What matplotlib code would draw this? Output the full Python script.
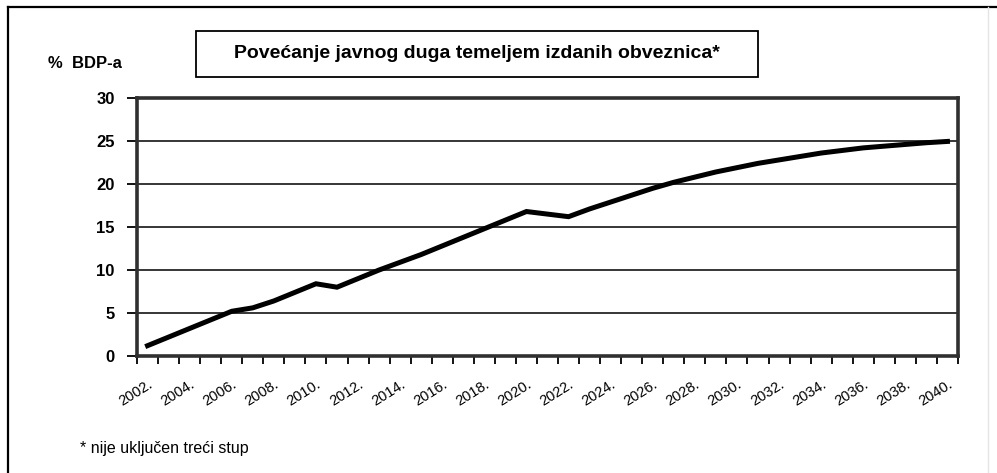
import matplotlib
matplotlib.use('Agg')
import matplotlib.pyplot as plt
from matplotlib.patches import Rectangle
from matplotlib.lines import Line2D

plt.rcParams['font.family'] = ['Liberation Sans', 'DejaVu Sans']

# godine (kategorije na osi x)
years = [2002, 2003, 2004, 2005, 2006, 2007, 2008, 2009, 2010, 2011,
         2012, 2013, 2014, 2015, 2016, 2017, 2018, 2019, 2020, 2021,
         2022, 2023, 2024, 2025, 2026, 2027, 2028, 2029, 2030, 2031,
         2032, 2033, 2034, 2035, 2036, 2037, 2038, 2039, 2040]

# javni dug, % BDP-a (ocitano sa slike)
debt = [1.2, 2.2, 3.2, 4.2, 5.2, 5.6, 6.4, 7.4, 8.4, 8.0,
        9.0, 10.0, 10.9, 11.8, 12.8, 13.8, 14.8, 15.8, 16.8, 16.5,
        16.2, 17.1, 17.9, 18.7, 19.5, 20.2, 20.8, 21.4, 21.9, 22.4,
        22.8, 23.2, 23.6, 23.9, 24.2, 24.4, 24.6, 24.8, 24.95]

yticks = [0, 5, 10, 15, 20, 25, 30]

title = 'Povećanje javnog duga temeljem izdanih obveznica*'
ylabel = '%  BDP-a'
note = '* nije uključen treći stup'

W, H = 997, 473
fig = plt.figure(figsize=(W / 100, H / 100), dpi=100)
fig.patch.set_facecolor('white')

ax = fig.add_axes([137 / W, 1 - 356 / H, (958 - 137) / W, (356 - 98) / H])

pos = list(range(len(years)))
ax.plot(pos, debt, color='black', lw=3.6, solid_joinstyle='miter', zorder=3)

ax.set_ylim(0, 30)
ax.set_yticks(yticks)
ax.set_yticklabels([str(v) for v in yticks], fontsize=12, fontweight='bold')
ax.yaxis.grid(True, color='black', lw=1.1)
ax.set_axisbelow(True)

ax.set_xlim(-0.5, len(years) - 0.5)
ax.set_xticks([p - 0.5 for p in pos] + [len(years) - 0.5])
ax.set_xticklabels([])
ax.set_xticks(pos[::2], minor=True)
ax.set_xticklabels(['%d.' % y for y in years[::2]], minor=True,
                   rotation=32, ha='right', rotation_mode='anchor',
                   fontsize=10.5)
ax.tick_params(axis='x', which='major', length=6, width=1.3, direction='out')
ax.tick_params(axis='x', which='minor', length=0, pad=15)
ax.tick_params(axis='y', length=7, width=1.3, pad=9)

for s in ax.spines.values():
    s.set_linewidth(2.6)
    s.set_color('#303030')

# okvir naslova
fig.patches.append(Rectangle((196 / W, 1 - 77 / H), (758 - 196) / W, 46 / H,
                             transform=fig.transFigure, fill=False,
                             edgecolor='black', lw=1.3))
fig.text(477 / W, 1 - 54 / H, title, ha='center', va='center',
         fontsize=14, fontweight='bold')
fig.text(48 / W, 1 - 63 / H, ylabel, ha='left', va='center',
         fontsize=12, fontweight='bold')
fig.text(80 / W, 1 - 448 / H, note, ha='left', va='center', fontsize=11.5)

# vanjski okvir grafikona
fig.lines.append(Line2D([8 / W, 8 / W], [0, 1 - 7 / H], transform=fig.transFigure,
                        color='black', lw=1.6))
fig.lines.append(Line2D([8 / W, 1], [1 - 7 / H, 1 - 7 / H], transform=fig.transFigure,
                        color='black', lw=1.6))
fig.lines.append(Line2D([988 / W, 988 / W], [0, 1 - 7 / H], transform=fig.transFigure,
                        color='#e4e4e4', lw=1.0))

fig.savefig('out.png', dpi=100)
